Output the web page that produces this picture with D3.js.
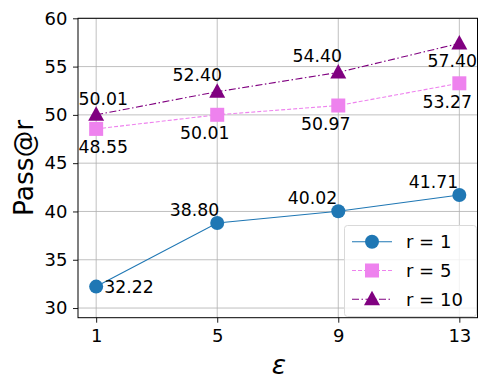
<!DOCTYPE html>
<html><head><meta charset="utf-8">
<script src="https://cdn.jsdelivr.net/npm/d3@7"></script>
<style>body{margin:0;background:#fff;} svg{display:block;font-family:"DejaVu Sans",sans-serif;}</style>
</head><body>
<script>
const epsilons = [1, 5, 9, 13];
const seriesNames = ["r = 1", "r = 5", "r = 10"];
const r1 = [32.22, 38.80, 40.02, 41.71];
const r5 = [48.55, 50.01, 50.97, 53.27];
const r10 = [50.01, 52.40, 54.40, 57.40];
const yTicks = [30, 35, 40, 45, 50, 55, 60];
const xTicks = [1, 5, 9, 13];

const W = 488, H = 390;
const m = {l: 78, r: 10.5, t: 18.3, b: 72.3};
const FS_TICK = 18, FS_ANN = 17.3, FS_LEG = 18;
const svg = d3.select("body").append("svg").attr("width", W).attr("height", H);
const x = d3.scaleLinear().domain([0.4, 13.6]).range([m.l, W - m.r]);
const y = d3.scaleLinear().domain([29, 60]).range([H - m.b, m.t]);

// grid
const g = svg.append("g");
g.selectAll(".gx").data(xTicks).join("line")
  .attr("x1", d => x(d)).attr("x2", d => x(d)).attr("y1", y(29)).attr("y2", y(60))
  .attr("stroke", "#b0b0b0").attr("stroke-width", 0.8);
g.selectAll(".gy").data(yTicks).join("line")
  .attr("y1", d => y(d)).attr("y2", d => y(d)).attr("x1", x(0.4)).attr("x2", x(13.6))
  .attr("stroke", "#b0b0b0").attr("stroke-width", 0.8);

// axes
const xAxis = d3.axisBottom(x).tickValues(xTicks).tickSize(5).tickPadding(7).tickFormat(d3.format("d"));
const yAxis = d3.axisLeft(y).tickValues(yTicks).tickSize(5).tickPadding(5.5).tickFormat(d3.format("d"));
const gx = svg.append("g").attr("transform", `translate(0,${H - m.b})`).call(xAxis);
const gy = svg.append("g").attr("transform", `translate(${m.l},0)`).call(yAxis);
[gx, gy].forEach(a => {
  a.select(".domain").remove();
  a.selectAll("text").attr("font-size", FS_TICK).attr("fill", "#000").attr("font-family", "DejaVu Sans");
  a.selectAll("line").attr("stroke", "#000").attr("stroke-width", 0.9);
});
// spines
svg.append("rect").attr("x", m.l).attr("y", m.t).attr("width", W - m.r - m.l).attr("height", H - m.b - m.t)
  .attr("fill", "none").attr("stroke", "#000").attr("stroke-width", 1);

// labels
svg.append("text").attr("transform", `translate(32.5,${(m.t + H - m.b)/2}) rotate(-90)`)
  .attr("text-anchor", "middle").attr("font-size", 26.5).text("Pass@r");
svg.append("text").attr("x", 279).attr("y", 374)
  .attr("text-anchor", "middle").attr("font-size", 26.5).attr("font-style", "italic").text("ε");

const series = [
  {vals: r1, color: "#1f77b4", dash: null, marker: "circle",
   labels: [[8, 0, "start"], [2, -13, "end"], [-1, -13, "end"], [-1, -13, "end"]]},
  {vals: r5, color: "#ee82ee", dash: "4,2", marker: "square",
   labels: [[7, 18, "middle"], [-12.5, 18, "middle"], [-12.5, 18.5, "middle"], [-12, 18.5, "middle"]]},
  {vals: r10, color: "#800080", dash: "7,2.5,1.5,2.5", marker: "triangle",
   labels: [[7, -16, "middle"], [-20, -16.5, "middle"], [-21, -16.5, "middle"], [-7, 18, "middle"]]}
];

function drawMarker(sel, type, color, cx, cy) {
  if (type === "circle") sel.append("circle").attr("cx", cx).attr("cy", cy).attr("r", 7).attr("fill", color);
  else if (type === "square") sel.append("rect").attr("x", cx - 7).attr("y", cy - 7).attr("width", 14).attr("height", 14).attr("fill", color);
  else sel.append("path").attr("d", `M${cx},${cy - 8.5}L${cx + 8},${cy + 6}L${cx - 8},${cy + 6}Z`).attr("fill", color);
}

const line = d3.line().x((d, i) => x(epsilons[i])).y(d => y(d));
series.forEach(s => {
  const p = svg.append("path").attr("d", line(s.vals)).attr("fill", "none")
    .attr("stroke", s.color).attr("stroke-width", 1.1);
  if (s.dash) p.attr("stroke-dasharray", s.dash);
  const mg = svg.append("g");
  s.vals.forEach((v, i) => drawMarker(mg, s.marker, s.color, x(epsilons[i]), y(v)));
});
series.forEach(s => {
  s.vals.forEach((v, i) => {
    const [dx, dy, anchor] = s.labels[i];
    svg.append("text").attr("x", x(epsilons[i]) + dx).attr("y", y(v) + dy)
      .attr("text-anchor", anchor).attr("dominant-baseline", "central")
      .attr("font-size", FS_ANN).text(v.toFixed(2));
  });
});

// legend
const lg = svg.append("g");
lg.append("rect").attr("x", 344.5).attr("y", 225.5).attr("width", 132).attr("height", 91)
  .attr("rx", 3).attr("fill", "#fff").attr("fill-opacity", 0.8).attr("stroke", "#d9d9d9");
series.forEach((s, i) => {
  const yy = 241.7 + i * 28.8;
  const l = lg.append("line").attr("x1", 352).attr("x2", 392).attr("y1", yy).attr("y2", yy)
    .attr("stroke", s.color).attr("stroke-width", 1.1);
  if (s.dash) l.attr("stroke-dasharray", s.dash);
  drawMarker(lg, s.marker, s.color, 372, yy);
  lg.append("text").attr("x", 406).attr("y", yy).attr("dominant-baseline", "central")
    .attr("font-size", FS_LEG).text(seriesNames[i]);
});
</script>
</body></html>
